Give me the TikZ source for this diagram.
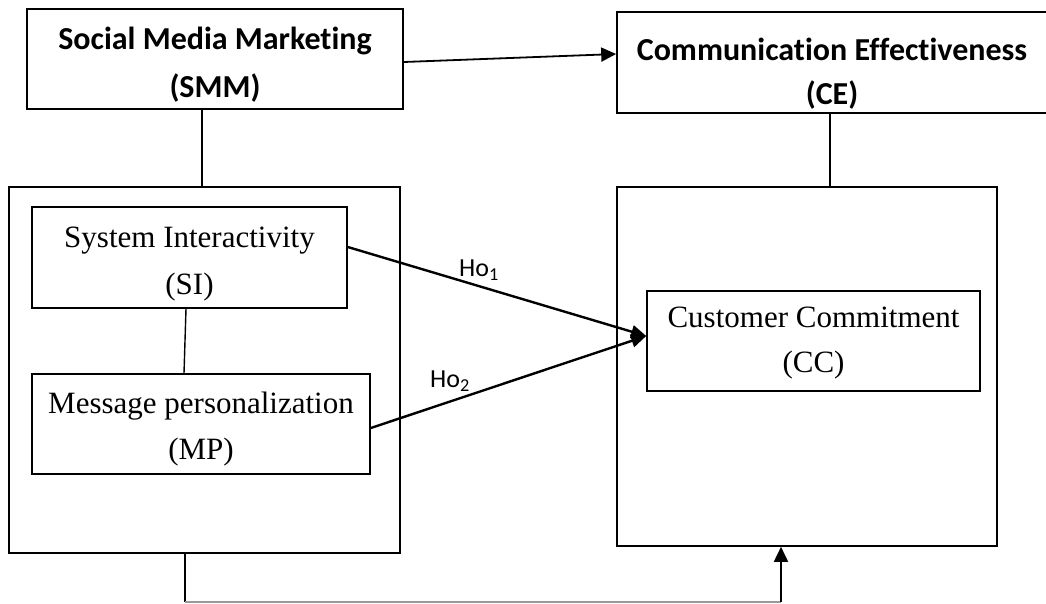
\documentclass[tikz,border=0pt]{standalone}
\usepackage{fontspec}
\setmainfont{Liberation Serif}
\newfontfamily\headfont[Ligatures=NoCommon]{Carlito}
\usetikzlibrary{arrows.meta}

% two centred lines, lowered by #3 without changing the box size
\newcommand\cellpair[3]{\raisebox{#3}[\height][\depth]{\begin{tabular}{@{}c@{}}#1\\#2\end{tabular}}}

\begin{document}
\begin{tikzpicture}[x=1pt,y=-1pt,
  box/.style={draw, line width=1.6pt, inner sep=0pt},
  headbox/.style={box, font=\headfont\bfseries},
  varbox/.style={box},
  frame/.style={draw, line width=1.6pt, inner sep=0pt},
  link/.style={line width=1.4pt},
  flow/.style={line width=1.8pt, -{Triangle[length=15pt,width=14pt]}},
  effect/.style={line width=2.4pt, -{Triangle[length=15pt,width=13pt]}},
  hlabel/.style={font=\headfont\fontsize{26}{26}\selectfont, inner sep=0pt}
]
\useasboundingbox (0,0) rectangle (1046,603);

% top-level constructs
\node[headbox, minimum width=376pt, minimum height=100pt] (smm) at (215,59)
  {\fontsize{32}{48}\selectfont\cellpair{Social Media Marketing}{(SMM)}{-5pt}};
\node[headbox, minimum width=430pt, minimum height=101pt] (ce) at (832,62.5)
  {\fontsize{32}{44}\selectfont\cellpair{Communication Effectiveness}{(CE)}{-11pt}};

% grouping frames
\node[frame, minimum width=391pt, minimum height=366pt] (left) at (204.5,370) {};
\node[frame, minimum width=380pt, minimum height=359pt] (right) at (807,366.5) {};

% variables
\node[varbox, minimum width=315pt, minimum height=101pt] (si) at (189.5,257.5)
  {\fontsize{31}{47}\selectfont\cellpair{System Interactivity}{(SI)}{-4pt}};
\node[varbox, minimum width=338pt, minimum height=100pt] (mp) at (201,424)
  {\fontsize{31}{46}\selectfont\cellpair{Message personalization}{(MP)}{-3pt}};
\node[varbox, minimum width=333pt, minimum height=100pt] (cc) at (813.5,341)
  {\fontsize{31}{45.5}\selectfont\cellpair{Customer Commitment}{(CC)}{0pt}};

% hypothesis labels
\node[hlabel] (h1) at (479,270) {Ho\textsubscript{1}};
\node[hlabel] (h2) at (450,381) {Ho\textsubscript{2}};

% connectors
\draw[link] ([xshift=-13pt]smm.south) -- ([xshift=-2.5pt]left.north);
\draw[flow] ([yshift=-3pt]smm.east) -- ([yshift=8.5pt]ce.west);
\draw[link] ([xshift=-2pt]ce.south) -- ([xshift=23pt]right.north);
\draw[link] ([xshift=-3.5pt]si.south) -- ([xshift=-17pt]mp.north);
\draw[effect] ([yshift=10.5pt]si.east) -- ([yshift=5pt]cc.west);
\draw[effect] ([yshift=-4pt]mp.east) -- ([yshift=5pt]cc.west);

\coordinate (bl) at (185,602);
\coordinate (br) at (781,602);
\draw[link] ([xshift=-19.5pt]left.south) -- (bl);
\draw[line width=1.2pt, black!40] (bl) -- (br);
\draw[flow] (br) -- ([xshift=-26pt]right.south);
\end{tikzpicture}
\end{document}
